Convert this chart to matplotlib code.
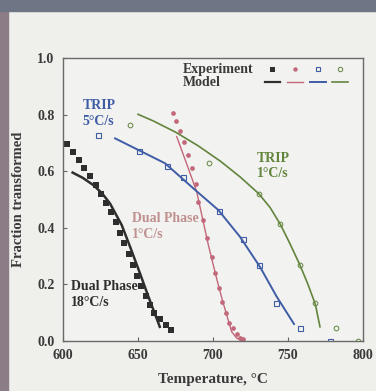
import matplotlib.pyplot as plt
from matplotlib.patches import Rectangle

# experiment: Dual Phase 18 C/s
dp18_t = [602.7, 606.7, 610.4, 614.2, 618.2, 622.0, 625.3, 628.6, 632.2, 635.3, 638.2,
          640.9, 643.7, 646.8, 649.4, 652.3, 655.4, 658.1, 660.8, 664.7, 668.5, 672.3]
dp18_f = [0.697, 0.668, 0.641, 0.612, 0.583, 0.552, 0.521, 0.489, 0.456, 0.420, 0.383,
          0.347, 0.306, 0.267, 0.231, 0.194, 0.159, 0.128, 0.100, 0.079, 0.055, 0.038]
# experiment: Dual Phase 1 C/s
dp1_t = [673.5, 675.3, 678.0, 680.7, 683.5, 685.8, 688.4, 690.2, 693.6, 695.8,
         699.1, 701.3, 704.0, 705.8, 708.7, 710.9, 713.6, 715.8, 718.0, 720.2]
dp1_f = [0.804, 0.777, 0.742, 0.704, 0.657, 0.610, 0.555, 0.492, 0.428, 0.363,
         0.298, 0.239, 0.186, 0.139, 0.098, 0.062, 0.045, 0.024, 0.012, 0.006]
# experiment: TRIP 5 C/s
trip5_t = [623.1, 650.7, 669.1, 680.0, 704.0, 720.2, 730.7, 742.2, 758.2, 777.8]
trip5_f = [0.729, 0.671, 0.618, 0.581, 0.459, 0.359, 0.270, 0.134, 0.045, 0.0]
# experiment: TRIP 1 C/s
trip1_t = [644.4, 697.1, 730.4, 744.9, 757.8, 768.2, 781.8, 796.9]
trip1_f = [0.762, 0.630, 0.521, 0.412, 0.270, 0.135, 0.046, 0.0]

# model curves
m_dp18_t = [606.4, 613.0, 620.2, 626.0, 631.3, 639.1, 644.7, 651.3, 656.9, 663.6, 664.5]
m_dp18_f = [0.595, 0.577, 0.551, 0.522, 0.486, 0.410, 0.333, 0.239, 0.157, 0.063, 0.050]
m_dp1_t = [675.8, 682.5, 689.1, 693.0, 696.9, 700.2, 703.5, 706.3, 709.1, 711.0, 712.4, 715.8, 719.0]
m_dp1_f = [0.722, 0.625, 0.528, 0.433, 0.339, 0.268, 0.198, 0.143, 0.092, 0.058, 0.033, 0.010, 0.002]
m_trip5_t = [634.7, 650.2, 668.0, 688.0, 703.5, 718.0, 731.3, 742.4, 754.0]
m_trip5_f = [0.716, 0.675, 0.628, 0.534, 0.463, 0.368, 0.262, 0.157, 0.060]
m_trip1_t = [650.0, 660.0, 675.0, 690.0, 705.0, 718.0, 730.4, 738.0, 744.9, 751.0, 757.8, 763.0, 768.2, 771.3]
m_trip1_f = [0.801, 0.778, 0.738, 0.690, 0.635, 0.580, 0.521, 0.472, 0.412, 0.347, 0.270, 0.204, 0.130, 0.050]

c_black = '#2e2e2e'
c_red = '#c2687a'
c_blue = '#3f5ca6'
c_green = '#62843c'
c_text = '#3a3a3a'

plt.rcParams['font.family'] = ['Liberation Serif', 'DejaVu Serif']

fig = plt.figure(figsize=(3.76, 3.91), dpi=100, facecolor='#efefec')
# scanned page border
fig.patches.append(Rectangle((0, 0), 0.022, 1, transform=fig.transFigure, color='#8b7c86', zorder=0))
fig.patches.append(Rectangle((0, 0.972), 1, 0.028, transform=fig.transFigure, color='#6e7585', zorder=0))

ax = fig.add_axes([0.1676, 0.1279, 0.7979, 0.7238])
ax.set_facecolor('#f2f2f0')

ax.plot(dp18_t, dp18_f, 's', color=c_black, ms=4.2, mew=0)
ax.plot(dp1_t, dp1_f, 'o', color=c_red, ms=3.4, mew=0)
ax.plot(trip5_t, trip5_f, 's', mfc='none', mec=c_blue, ms=3.6, mew=0.8)
ax.plot(trip1_t, trip1_f, 'o', mfc='none', mec=c_green, ms=3.4, mew=0.7)

ax.plot(m_dp18_t, m_dp18_f, '-', color=c_black, lw=1.8)
ax.plot(m_dp1_t, m_dp1_f, '-', color=c_red, lw=1.0)
ax.plot(m_trip5_t, m_trip5_f, '-', color=c_blue, lw=1.4)
ax.plot(m_trip1_t, m_trip1_f, '-', color=c_green, lw=1.2)

ax.set_xlim(600, 800)
ax.set_ylim(0, 1.0)
ax.set_xticks([600, 650, 700, 750, 800])
ax.set_yticks([0.0, 0.2, 0.4, 0.6, 0.8, 1.0])
ax.set_yticklabels(['0.0', '0.2', '0.4', '0.6', '0.8', '1.0'])
ax.tick_params(direction='in', length=3, width=0.8, color='#666666',
               labelsize=10, labelcolor=c_text, pad=6)
for lab in ax.get_xticklabels() + ax.get_yticklabels():
    lab.set_fontweight('bold')
for sp in ax.spines.values():
    sp.set_color('#6a6a6a')
    sp.set_linewidth(1.0)

ax.set_xlabel('Temperature, °C', fontsize=11, color=c_text, fontweight='bold', labelpad=8)
ax.set_ylabel('Fraction transformed', fontsize=10.5, color=c_text, fontweight='bold', labelpad=9)

# curve labels
ax.text(613, 0.855, 'TRIP\n5°C/s', color=c_blue, fontsize=10, fontweight='bold',
        va='top', ha='left', linespacing=1.25)
ax.text(729, 0.668, 'TRIP\n1°C/s', color=c_green, fontsize=10, fontweight='bold',
        va='top', ha='left', linespacing=1.25)
ax.text(646, 0.455, 'Dual Phase\n1°C/s', color='#c09090', fontsize=10, fontweight='bold',
        va='top', ha='left', linespacing=1.25)
ax.text(605, 0.215, 'Dual Phase\n18°C/s', color=c_black, fontsize=10, fontweight='bold',
        va='top', ha='left', linespacing=1.25)

# legend table
tr = ax.transAxes
ax.text(0.40, 0.961, 'Experiment', transform=tr, fontsize=10, fontweight='bold',
        color=c_text, va='center', ha='left')
ax.text(0.40, 0.912, 'Model', transform=tr, fontsize=10, fontweight='bold',
        color=c_text, va='center', ha='left')
ax.plot([0.697], [0.961], 's', color=c_black, ms=3.6, mew=0, transform=tr)
ax.plot([0.773], [0.961], 'o', color=c_red, ms=3.2, mew=0, transform=tr)
ax.plot([0.850], [0.961], 's', mfc='none', mec=c_blue, ms=3.4, mew=0.8, transform=tr)
ax.plot([0.923], [0.961], 'o', mfc='none', mec=c_green, ms=3.2, mew=0.7, transform=tr)
ax.plot([0.673, 0.723], [0.915, 0.915], '-', color=c_black, lw=1.6, transform=tr)
ax.plot([0.747, 0.800], [0.915, 0.915], '-', color=c_red, lw=1.0, transform=tr)
ax.plot([0.823, 0.877], [0.915, 0.915], '-', color=c_blue, lw=1.4, transform=tr)
ax.plot([0.897, 0.950], [0.915, 0.915], '-', color=c_green, lw=1.2, transform=tr)

fig.savefig('out.png', dpi=100, facecolor=fig.get_facecolor())
